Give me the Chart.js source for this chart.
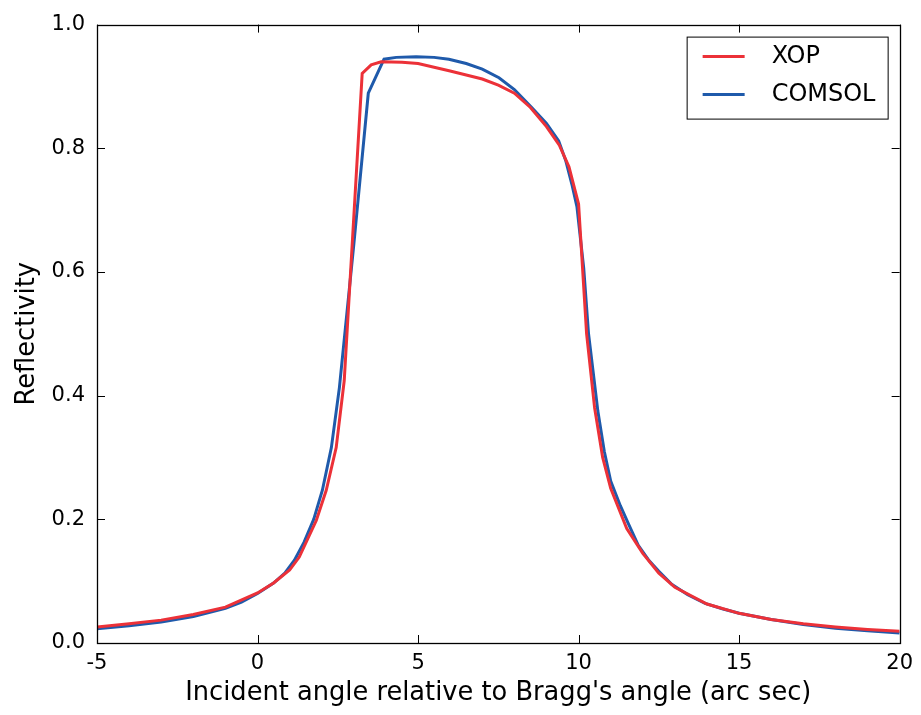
<!DOCTYPE html>
<html>
<head>
<meta charset="utf-8">
<title>Reflectivity</title>
<script src="https://cdn.jsdelivr.net/npm/chart.js@4.4.1/dist/chart.umd.min.js"></script>
<style>
  html, body { margin: 0; padding: 0; background: #fff; }
  canvas { display: block; }
</style>
</head>
<body>
<canvas id="myChart" width="921" height="715"></canvas>
<script>
"use strict";

// values
const xopX = [-5, -4, -3, -2, -1, 0, 0.5, 1.0, 1.3, 1.83, 2.14, 2.45, 2.7, 3.26, 3.54, 3.85, 4.5, 5.0, 6.0, 7.0, 7.5, 8.0, 8.5, 9.0, 9.4, 9.7, 10.0, 10.25, 10.5, 10.75, 11.0, 11.5, 12.0, 12.5, 13.0, 14.0, 15.0, 16.0, 17.0, 18.0, 19.0, 20.0];
const xopY = [0.026, 0.031, 0.037, 0.046, 0.058, 0.081, 0.097, 0.118, 0.139, 0.198, 0.247, 0.316, 0.424, 0.921, 0.935, 0.940, 0.939, 0.937, 0.925, 0.912, 0.902, 0.889, 0.866, 0.835, 0.805, 0.770, 0.710, 0.50, 0.38, 0.30, 0.25, 0.185, 0.145, 0.113, 0.090, 0.063, 0.048, 0.038, 0.031, 0.026, 0.022, 0.019];

const comsolX = [-5, -4, -3, -2, -1, -0.5, 0, 0.5, 0.85, 1.15, 1.45, 1.75, 2.02, 2.3, 2.55, 3.0, 3.45, 3.94, 4.32, 4.94, 5.5, 5.96, 6.5, 7.0, 7.52, 8.0, 8.54, 9.0, 9.38, 9.6, 9.8, 9.95, 10.16, 10.31, 10.45, 10.6, 10.8, 11.0, 11.3, 11.55, 11.86, 12.2, 12.5, 12.9, 13.4, 13.94, 14.5, 15, 16, 17, 18, 19, 20];
const comsolY = [0.023, 0.028, 0.034, 0.043, 0.056, 0.066, 0.080, 0.097, 0.113, 0.134, 0.163, 0.200, 0.247, 0.316, 0.413, 0.645, 0.889, 0.944, 0.947, 0.948, 0.947, 0.944, 0.937, 0.928, 0.914, 0.895, 0.866, 0.840, 0.812, 0.780, 0.740, 0.705, 0.606, 0.500, 0.440, 0.375, 0.310, 0.262, 0.222, 0.193, 0.158, 0.133, 0.116, 0.095, 0.078, 0.064, 0.055, 0.048, 0.038, 0.030, 0.024, 0.020, 0.016];

const seriesNames = ["XOP", "COMSOL"];
const xTicks = [-5, 0, 5, 10, 15, 20];
const yTicks = [0.0, 0.2, 0.4, 0.6, 0.8, 1.0];

const RED = "#ec3138";
const BLUE = "#1f5aab";
const FONT = "'DejaVu Sans', sans-serif";

function toPoints(xs, ys) {
    let pts = [];
    for (let i = 0; i < xs.length; i++) pts.push({x: xs[i], y: ys[i]});
    return pts;
}

// frame, inward ticks on all four sides, legend box
const framePlugin = {
    id: "frame",
    afterDatasetsDraw(chart) {
        const ctx = chart.ctx;
        const a = chart.chartArea;
        const xs = chart.scales.x, ys = chart.scales.y;
        const len = 8;
        ctx.save();
        ctx.strokeStyle = "#000";
        ctx.lineWidth = 1;
        ctx.beginPath();
        for (let v of xTicks) {
            let px = Math.round(xs.getPixelForValue(v)) + 0.5;
            ctx.moveTo(px, a.bottom); ctx.lineTo(px, a.bottom - len);
            ctx.moveTo(px, a.top); ctx.lineTo(px, a.top + len);
        }
        for (let v of yTicks) {
            let py = Math.round(ys.getPixelForValue(v)) + 0.5;
            ctx.moveTo(a.left, py); ctx.lineTo(a.left + len, py);
            ctx.moveTo(a.right, py); ctx.lineTo(a.right - len, py);
        }
        ctx.stroke();
        ctx.lineWidth = 1.3;
        ctx.strokeRect(Math.round(a.left) + 0.5, Math.round(a.top) + 0.5, Math.round(a.right - a.left), Math.round(a.bottom - a.top));

        // legend
        const bx = a.right - 213, by = a.top + 12, bw = 201, bh = 82;
        ctx.fillStyle = "#fff";
        ctx.fillRect(bx, by, bw, bh);
        ctx.lineWidth = 1;
        ctx.strokeRect(bx + 0.5, by + 0.5, bw, bh);
        const colors = [RED, BLUE];
        ctx.font = "24px " + FONT;
        ctx.textBaseline = "middle";
        ctx.textAlign = "left";
        for (let i = 0; i < seriesNames.length; i++) {
            let ly = by + 20 + i * 38;
            ctx.strokeStyle = colors[i];
            ctx.lineWidth = 3;
            ctx.beginPath();
            ctx.moveTo(bx + 16, ly); ctx.lineTo(bx + 58, ly);
            ctx.stroke();
            ctx.fillStyle = "#000";
            ctx.fillText(seriesNames[i], bx + 85, ly);
        }
        ctx.restore();
    }
};

const chart = new Chart(document.getElementById("myChart"), {
    type: "line",
    data: {
        datasets: [
            {label: seriesNames[0], data: toPoints(xopX, xopY), borderColor: RED, borderWidth: 3, pointRadius: 0, tension: 0, fill: false},
            {label: seriesNames[1], data: toPoints(comsolX, comsolY), borderColor: BLUE, borderWidth: 3, pointRadius: 0, tension: 0, fill: false}
        ]
    },
    options: {
        responsive: false,
        animation: false,
        devicePixelRatio: 1,
        layout: {padding: {top: 23, right: 19, left: 0, bottom: 0}},
        plugins: {legend: {display: false}, tooltip: {enabled: false}},
        scales: {
            x: {
                type: "linear",
                min: -5, max: 20,
                afterBuildTicks(s) { s.ticks = xTicks.map(v => ({value: v})); },
                afterFit(s) { s.height = 72; },
                grid: {display: false, drawTicks: false},
                border: {display: false},
                ticks: {color: "#000", padding: 8, font: {family: FONT, size: 21}, callback: v => String(v), maxRotation: 0},
                title: {display: true, text: "Incident angle relative to Bragg's angle (arc sec)", color: "#000", font: {family: FONT, size: 25.7}, padding: {top: 0, bottom: 6}}
            },
            y: {
                min: 0, max: 1,
                afterBuildTicks(s) { s.ticks = yTicks.map(v => ({value: v})); },
                afterFit(s) { s.width = 97; },
                grid: {display: false, drawTicks: false},
                border: {display: false},
                ticks: {color: "#000", padding: 12, font: {family: FONT, size: 21}, callback: v => Number(v).toFixed(1)},
                title: {display: true, text: "Reflectivity", color: "#000", font: {family: FONT, size: 25.7}, padding: {top: 12, bottom: 0}}
            }
        }
    },
    plugins: [framePlugin]
});
</script>
</body>
</html>
